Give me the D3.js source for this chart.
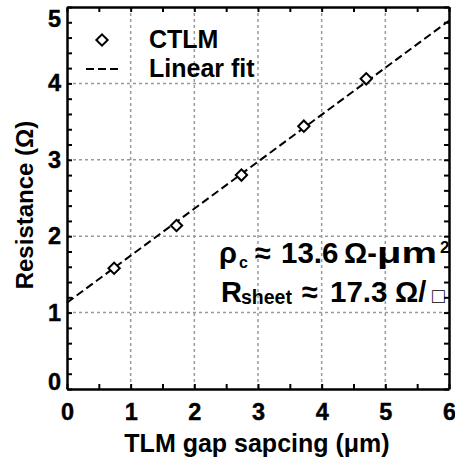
<!DOCTYPE html>
<html>
<head>
<meta charset="utf-8">
<script src="https://cdn.jsdelivr.net/npm/d3@7"></script>
<style>
  body { margin: 0; background: #fff; }
  text { font-family: "Liberation Sans", Arial, sans-serif; font-weight: bold; fill: #000; }
</style>
</head>
<body>
<script>
// data
var gapSpacing = [0.74, 1.72, 2.74, 3.72, 4.70];
var resistance = [1.58, 2.14, 2.80, 3.44, 4.06];
var fitSlope = 0.615, fitIntercept = 1.13;
var xTicks = [0, 1, 2, 3, 4, 5, 6];
var yTicks = [0, 1, 2, 3, 4, 5];

var W = 455, H = 464;
var margin = { top: 7, right: 6, bottom: 75, left: 67 },
  width = W - margin.left - margin.right,
  height = H - margin.top - margin.bottom;

var svg = d3.select("body").append("svg")
  .attr("width", W)
  .attr("height", H);

var g = svg.append("g")
  .attr("transform", "translate(" + margin.left + "," + margin.top + ")");

var x = d3.scaleLinear().domain([0, 6]).range([0, width]);
var y = d3.scaleLinear().domain([0, 5]).range([height, 0]);

// grid
g.selectAll(".gx").data(xTicks.slice(1, -1)).enter().append("line")
  .attr("x1", d => x(d)).attr("x2", d => x(d))
  .attr("y1", 0).attr("y2", height)
  .attr("stroke", "#9a9a9a").attr("stroke-width", 1.5)
  .attr("stroke-dasharray", "3,3");
g.selectAll(".gy").data(yTicks.slice(1, -1)).enter().append("line")
  .attr("y1", d => y(d)).attr("y2", d => y(d))
  .attr("x1", 0).attr("x2", width)
  .attr("stroke", "#9a9a9a").attr("stroke-width", 1.5)
  .attr("stroke-dasharray", "3,3");

// inward ticks on all four sides (minor every 0.5 / 0.2)
var xMinor = d3.range(0, 6.01, 0.5), yMinor = d3.range(0, 5.01, 0.2);
function isMajor(d) { return Math.abs(d - Math.round(d)) < 1e-6; }

var axB = g.append("g").attr("transform", "translate(0," + height + ")")
  .call(d3.axisBottom(x).tickValues(xMinor).tickSizeInner(-5).tickSizeOuter(0)
    .tickFormat(d => isMajor(d) ? Math.round(d) : "").tickPadding(14));
var axT = g.append("g")
  .call(d3.axisTop(x).tickValues(xMinor).tickSizeInner(-5).tickSizeOuter(0).tickFormat(""));
var axL = g.append("g")
  .call(d3.axisLeft(y).tickValues(yMinor).tickSizeInner(-5).tickSizeOuter(0)
    .tickFormat(d => isMajor(d) ? Math.round(d) : "").tickPadding(6));
var axR = g.append("g").attr("transform", "translate(" + width + ",0)")
  .call(d3.axisRight(y).tickValues(yMinor).tickSizeInner(-5).tickSizeOuter(0).tickFormat(""));

[axB, axT, axL, axR].forEach(function (a) {
  a.attr("font-family", null).attr("font-size", null);
  a.select(".domain").attr("stroke", "#000").attr("stroke-width", 2.5);
  a.selectAll(".tick line").attr("stroke", "#000").attr("stroke-width", 2);
  a.selectAll(".tick text").attr("fill", "#000").style("font-size", "23.5px")
    .attr("stroke", "#000").attr("stroke-width", 0.4);
});
// the top "5" and bottom "0" labels are nudged inside, as in the original
axL.selectAll(".tick text").attr("y", d => Math.round(d * 10) === 50 ? 12 : (Math.round(d * 10) === 0 ? -7 : 0));

// linear fit
g.append("line")
  .attr("x1", x(0)).attr("y1", y(fitIntercept))
  .attr("x2", x(6)).attr("y2", y(fitIntercept + fitSlope * 6))
  .attr("stroke", "#000").attr("stroke-width", 2)
  .attr("stroke-dasharray", "8,4");

// data markers
var diamond = d3.symbol().type(d3.symbolSquare).size(64);
g.selectAll(".pt").data(gapSpacing).enter().append("path")
  .attr("d", diamond)
  .attr("transform", (d, i) => "translate(" + x(d) + "," + y(resistance[i]) + ") rotate(45)")
  .attr("fill", "#fff").attr("stroke", "#000").attr("stroke-width", 2);

// legend
svg.append("path").attr("d", diamond)
  .attr("transform", "translate(102,40) rotate(45)")
  .attr("fill", "#fff").attr("stroke", "#000").attr("stroke-width", 2);
svg.append("line").attr("x1", 86).attr("x2", 120).attr("y1", 69).attr("y2", 69)
  .attr("stroke", "#000").attr("stroke-width", 2).attr("stroke-dasharray", "8,4");
svg.append("text").attr("x", 149).attr("y", 48).style("font-size", "25px").text("CTLM");
svg.append("text").attr("x", 149).attr("y", 77).style("font-size", "25px").text("Linear fit");

// annotation, pieces placed as in the original
function piece(txt, px, py, size, extra) {
  var t = svg.append("text").attr("x", px).attr("y", py).style("font-size", size + "px").text(txt);
  if (extra) extra(t);
  return t;
}
piece("ρ", 219, 263, 29);
piece("c", 239, 268, 16);
piece("≈", 255, 263, 29);
piece("13.6", 281, 263, 29.5);
piece("Ω-", 344, 263, 29);
piece("μm", 377, 263, 29, t => t.attr("textLength", 60).attr("lengthAdjust", "spacingAndGlyphs"));
piece("2", 440, 253, 17);

piece("R", 221, 302, 29);
piece("sheet", 241, 304, 19.5);
piece("≈", 302, 302, 29);
piece("17.3", 330, 302, 29.5);
piece("Ω/", 395, 302, 29);
piece("□", 432, 303, 21, t => t.style("font-weight", "normal"));

// axis titles
svg.append("text")
  .attr("text-anchor", "middle")
  .attr("x", 257)
  .attr("y", 452)
  .style("font-size", "25px")
  .text("TLM gap sapcing (μm)");

svg.append("text")
  .attr("text-anchor", "middle")
  .attr("transform", "rotate(-90)")
  .attr("x", -205)
  .attr("y", 33)
  .style("font-size", "24px")
  .text("Resistance (Ω)");
</script>
</body>
</html>
